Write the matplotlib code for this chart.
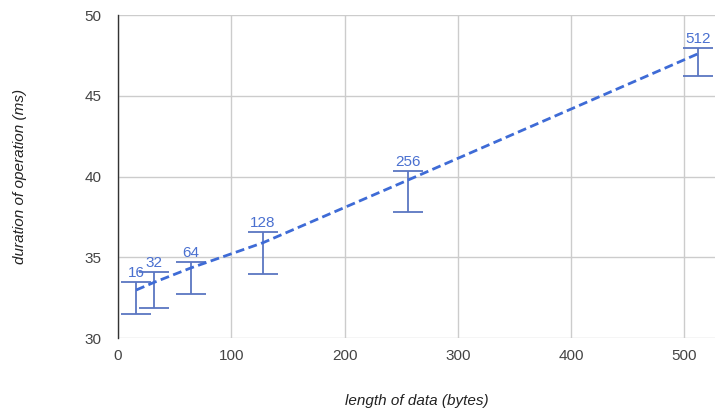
import matplotlib.pyplot as plt

plt.rcParams['font.family'] = ['Liberation Sans', 'DejaVu Sans']

# ---- data ----
sizes = [16, 32, 64, 128, 256, 512]
size_labels = ["16", "32", "64", "128", "256", "512"]
mean_ms = [32.97, 33.45, 34.33, 35.9, 39.78, 47.6]
low_ms = [31.47, 31.86, 32.71, 33.96, 37.8, 46.22]
high_ms = [33.47, 34.07, 34.73, 36.56, 40.36, 47.98]

fig = plt.figure(figsize=(7.17, 4.11), dpi=100)
ax = fig.add_axes([118 / 717, 1 - 338 / 411, (715 - 118) / 717, (338 - 15) / 411])

# trend line through the means
ax.plot(sizes, mean_ms, color="#3e6bd6", linewidth=2, linestyle=(0, (3.2, 1.6)), zorder=3)

# interval bars
err_lo = [m - l for m, l in zip(mean_ms, low_ms)]
err_hi = [h - m for m, h in zip(mean_ms, high_ms)]
ax.errorbar(sizes, mean_ms, yerr=[err_lo, err_hi], fmt="none", ecolor="#5b76c2",
            elinewidth=1.3, capsize=10.5, capthick=1.3, zorder=2)

for x, h, lab in zip(sizes, high_ms, size_labels):
    ax.annotate(lab, (x, h), xytext=(0, 1.5), textcoords="offset points",
                ha="center", va="bottom", color="#4a70d0", fontsize=11)

ax.set_xlim(0, 527)
ax.set_ylim(30, 50)
ax.set_xticks([0, 100, 200, 300, 400, 500])
ax.set_yticks([30, 35, 40, 45, 50])
ax.grid(True, color="#cccccc", linewidth=1)
ax.set_axisbelow(True)
ax.tick_params(length=0, labelsize=11, labelcolor="#444444")
ax.tick_params(axis="x", pad=8)
ax.tick_params(axis="y", pad=12)

for s in ["top", "right", "bottom"]:
    ax.spines[s].set_visible(False)
ax.spines["left"].set_color("#333333")
ax.spines["left"].set_linewidth(1)

ax.set_xlabel("length of data (bytes)", fontstyle="italic", fontsize=11, color="#222222", labelpad=22)
ax.set_ylabel("duration of operation (ms)", fontstyle="italic", fontsize=11, color="#222222", labelpad=41)

fig.savefig("out.png", dpi=100)
